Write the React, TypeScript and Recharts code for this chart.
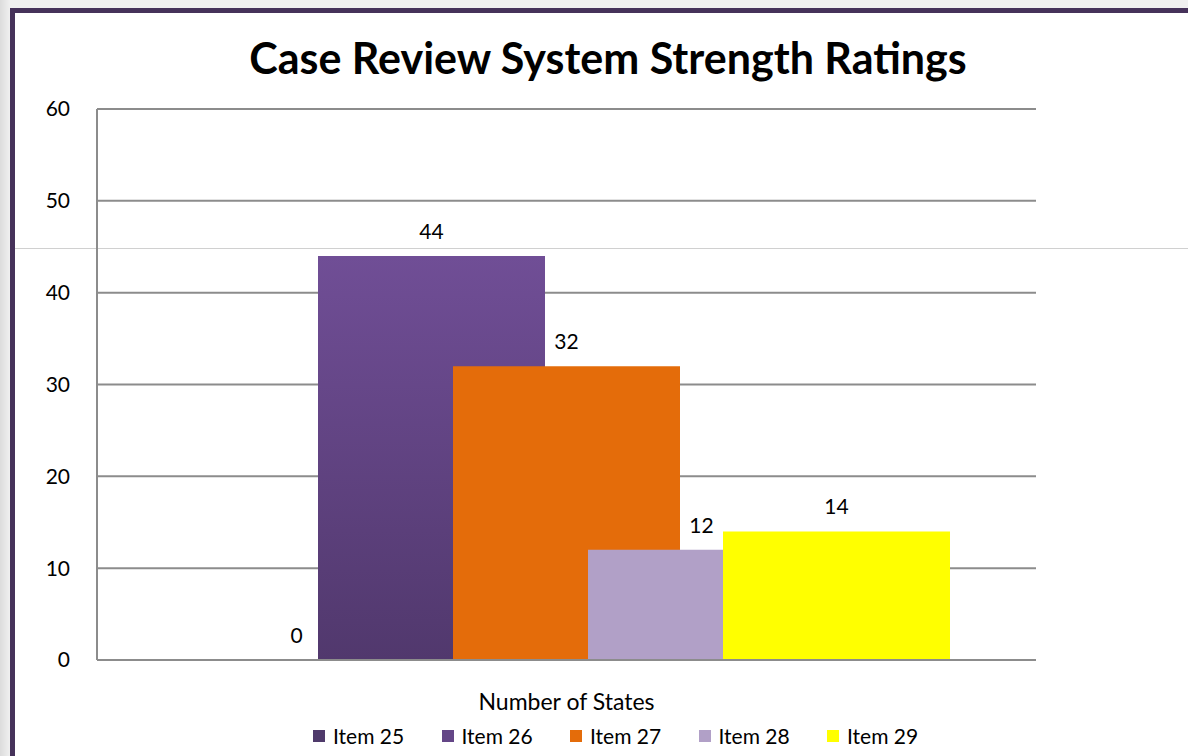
import { Bar, BarChart, CartesianGrid, LabelList, XAxis, YAxis } from 'recharts';

const categories = ['Number of States'];
const seriesNames = ['Item 25', 'Item 26', 'Item 27', 'Item 28', 'Item 29'];
const seriesValues = [0, 44, 32, 12, 14];
const seriesColors = ['#4f3a6b', 'url(#item26Fill)', '#e46c0a', '#b1a0c7', '#ffff00'];
const legendColors = ['#4f3a6b', '#644687', '#e46c0a', '#b1a0c7', '#ffff00'];
const yTicks = [0, 10, 20, 30, 40, 50, 60];

const data = categories.map((name) => {
  const row: Record<string, string | number> = { name };
  seriesNames.forEach((s, i) => {
    row[s] = seriesValues[i];
  });
  return row;
});

const font = 'Lato, "Open Sans", sans-serif';

// value label drawn above each bar, also for zero-height bars
const renderValue = (props: any) => {
  const { x, y, width, height, value } = props;
  if (value === undefined || value === null) return null;
  const top = Number(value) === 0 ? Number(y) + Number(height) : Number(y);
  return (
    <text
      x={Number(x) + Number(width) / 2}
      y={top - 17}
      textAnchor="middle"
      fill="#000"
      fontSize={21}
      fontFamily={font}
    >
      {value}
    </text>
  );
};

export default function App() {
  return (
    <div
      style={{
        position: 'fixed',
        left: 0,
        top: 0,
        width: 1188,
        height: 756,
        overflow: 'hidden',
        background: 'linear-gradient(90deg, #dcdcdc 0px, #f0f0f0 10px)',
        fontFamily: font,
      }}
    >
      {/* slide frame */}
      <div
        style={{
          position: 'absolute',
          left: 10,
          top: 8,
          width: 1300,
          height: 900,
          background: '#ffffff',
          borderTop: '5px solid #46325a',
          borderLeft: '5px solid #46325a',
        }}
      />
      <div
        style={{
          position: 'absolute',
          left: 15,
          top: 248,
          width: 1180,
          height: 1,
          background: '#d0d0d0',
        }}
      />
      <div
        style={{
          position: 'absolute',
          left: 0,
          top: 32,
          width: 1216,
          textAlign: 'center',
          fontSize: 43,
          fontWeight: 700,
          color: '#000',
        }}
      >
        Case Review System Strength Ratings
      </div>
      <div style={{ position: 'absolute', left: 0, top: 0 }}>
        <BarChart
          width={1188}
          height={756}
          data={data}
          margin={{ top: 109, right: 152, left: 0, bottom: 46 }}
          barSize={227}
          barGap={-92}
        >
          <defs>
            <linearGradient id="item26Fill" x1="0" y1="0" x2="0" y2="1">
              <stop offset="0%" stopColor="#704e96" />
              <stop offset="100%" stopColor="#51386d" />
            </linearGradient>
          </defs>
          <CartesianGrid vertical={false} stroke="#8c8c8c" strokeWidth={2} />
          <XAxis
            dataKey="name"
            height={50}
            axisLine={{ stroke: '#8c8c8c', strokeWidth: 2 }}
            tickLine={false}
            tickSize={0}
            tickMargin={34}
            tick={{ fill: '#000', fontSize: 23, fontFamily: font }}
          />
          <YAxis
            width={97}
            domain={[0, 60]}
            ticks={yTicks}
            axisLine={{ stroke: '#8c8c8c', strokeWidth: 2 }}
            tickLine={false}
            tickSize={0}
            tickMargin={27}
            tick={{ fill: '#000', fontSize: 21, fontFamily: font }}
          />
          {seriesNames.map((s, i) => (
            <Bar
              key={s}
              dataKey={s}
              fill={seriesColors[i]}
              minPointSize={seriesValues[i] === 0 ? 1 : 0}
              isAnimationActive={false}
            >
              <LabelList dataKey={s} content={renderValue} />
            </Bar>
          ))}
        </BarChart>
      </div>
      {/* legend */}
      <div
        style={{
          position: 'absolute',
          left: 313,
          top: 723,
          display: 'flex',
          fontSize: 21,
          color: '#000',
        }}
      >
        {seriesNames.map((s, i) => (
          <div key={s} style={{ width: 128.5, display: 'flex', alignItems: 'center' }}>
            <span
              style={{
                width: 12,
                height: 12,
                background: legendColors[i],
                marginRight: 8,
                display: 'inline-block',
              }}
            />
            <span>{s}</span>
          </div>
        ))}
      </div>
    </div>
  );
}
